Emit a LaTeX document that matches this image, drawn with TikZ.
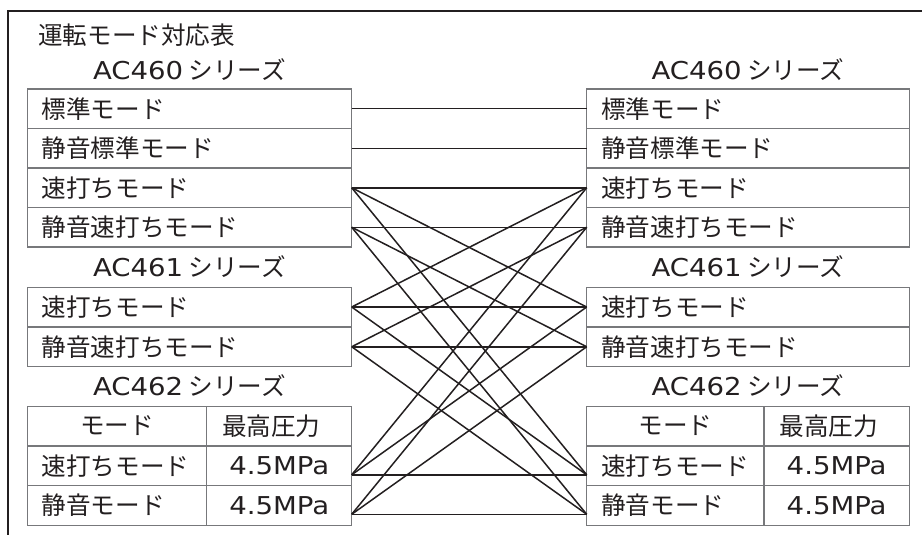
\documentclass[tikz,border=0pt]{standalone}
\usepackage{fontspec}
\setmainfont{Noto Sans CJK JP}
\newfontfamily\lat[FakeStretch=1.12]{DejaVu Sans}
\definecolor{ink}{HTML}{231F20}
\definecolor{rule}{HTML}{77787B}
\begin{document}
\begin{tikzpicture}[x=1pt,y=1pt,
  every node/.style={text=ink, font=\fontsize{24.6}{28}\selectfont},
  txt/.style={inner sep=0pt},
  rowbox/.style={draw=rule, line width=1.2pt, inner xsep=14.5pt, inner ysep=0pt, outer sep=0pt,
                 minimum height=39.6pt, align=left},
  cellc/.style={draw=rule, line width=1.2pt, inner xsep=0pt, inner ysep=0pt, outer sep=0pt,
                 minimum height=39.6pt, align=center},
  conn/.style={draw=ink, line width=1.5pt},
  frameline/.style={draw=ink, line width=1.8pt}]
\useasboundingbox (0,0) rectangle (922,-535);
% outer frame
\draw[frameline] (8.3,-540) -- (8.3,-11) -- (930,-11);
% titles
\node[txt, anchor=west] (title) at (38,-35) {運転モード対応表};
\node[txt] (s0L) at (189.5,-70) {{\lat AC460} シリーズ};
\node[txt] (s0R) at (748,-70) {{\lat AC460} シリーズ};
\node[txt] (s1L) at (189.5,-267) {{\lat AC461} シリーズ};
\node[txt] (s1R) at (748,-267) {{\lat AC461} シリーズ};
\node[txt] (s2L) at (189.5,-386) {{\lat AC462} シリーズ};
\node[txt] (s2R) at (748,-386) {{\lat AC462} シリーズ};
% left AC460 / AC461
\begin{scope}[every node/.append style={rowbox, text width=295.4pt}]
\node (L0a) at (189.5,-108.75) {標準モード};
\node (L0b) at (189.5,-148.25) {静音標準モード};
\node (L0c) at (189.5,-187.75) {速打ちモード};
\node (L0d) at (189.5,-227.25) {静音速打ちモード};
\node (L1a) at (189.5,-307) {速打ちモード};
\node (L1b) at (189.5,-346.75) {静音速打ちモード};
\end{scope}
\begin{scope}[every node/.append style={rowbox, text width=293.6pt}]
\node (R0a) at (748,-108.75) {標準モード};
\node (R0b) at (748,-148.25) {静音標準モード};
\node (R0c) at (748,-187.75) {速打ちモード};
\node (R0d) at (748,-227.25) {静音速打ちモード};
\node (R1a) at (748,-307) {速打ちモード};
\node (R1b) at (748,-346.75) {静音速打ちモード};
\end{scope}
% left AC462 table
\node[cellc, minimum width=179.4pt] (L2h1) at (117,-426) {モード};
\node[cellc, minimum width=145pt] (L2h2) at (279.2,-426) {\hspace*{-16pt}最高圧力};
\node[rowbox, text width=150.4pt] (L2a1) at (117,-466) {速打ちモード};
\node[cellc, minimum width=145pt] (L2a2) at (279.2,-466) {\lat 4.5MPa};
\node[rowbox, text width=150.4pt] (L2b1) at (117,-505.5) {静音モード};
\node[cellc, minimum width=145pt] (L2b2) at (279.2,-505.5) {\lat 4.5MPa};
% right AC462 table
\node[cellc, minimum width=177.3pt] (R2h1) at (675.35,-426) {モード};
\node[cellc, minimum width=145.3pt] (R2h2) at (836.65,-426) {\hspace*{-16pt}最高圧力};
\node[rowbox, text width=148.3pt] (R2a1) at (675.35,-466) {速打ちモード};
\node[cellc, minimum width=145.3pt] (R2a2) at (836.65,-466) {\lat 4.5MPa};
\node[rowbox, text width=148.3pt] (R2b1) at (675.35,-505.5) {静音モード};
\node[cellc, minimum width=145.3pt] (R2b2) at (836.65,-505.5) {\lat 4.5MPa};
% attachment points
\coordinate (pL0c) at (L0c.east);
\coordinate (pL1a) at (L1a.east);
\coordinate (pL2a) at ([yshift=11pt]L2a2.south east);
\coordinate (pL0d) at (L0d.east);
\coordinate (pL1b) at (L1b.east);
\coordinate (pL2b) at ([yshift=11pt]L2b2.south east);
\coordinate (pR0c) at (R0c.west);
\coordinate (pR1a) at (R1a.west);
\coordinate (pR2a) at ([yshift=11pt]R2a1.south west);
\coordinate (pR0d) at (R0d.west);
\coordinate (pR1b) at (R1b.west);
\coordinate (pR2b) at ([yshift=11pt]R2b1.south west);
% connectors
\draw[conn] (L0a.east) -- (R0a.west);
\draw[conn] (L0b.east) -- (R0b.west);
\foreach \a in {pL0c,pL1a,pL2a}{
  \foreach \b in {pR0c,pR1a,pR2a}{
    \draw[conn] (\a) -- (\b);
  }
}
\foreach \a in {pL0d,pL1b,pL2b}{
  \foreach \b in {pR0d,pR1b,pR2b}{
    \draw[conn] (\a) -- (\b);
  }
}
\end{tikzpicture}
\end{document}
